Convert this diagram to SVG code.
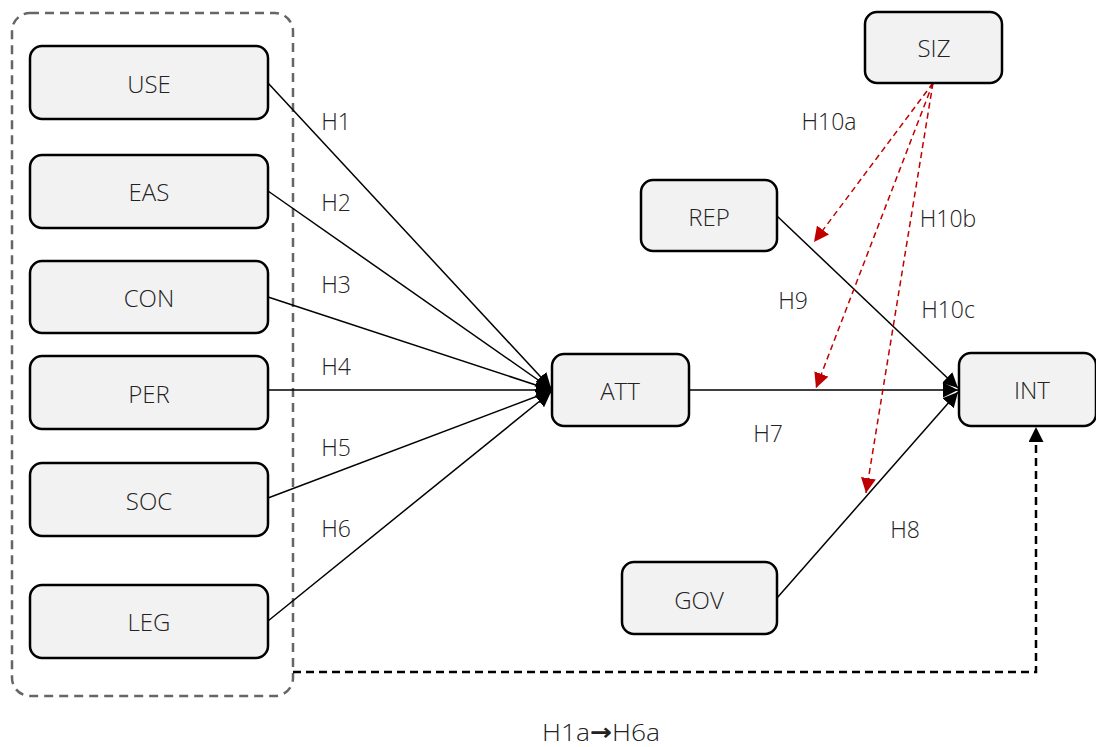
<svg xmlns="http://www.w3.org/2000/svg" width="1096" height="747" viewBox="0 0 1096 747">
<style>
.box{fill:#f2f2f2;stroke:#000;stroke-width:2.5}
.t{font-family:"Open Sans","Noto Sans",sans-serif;font-weight:300;font-size:24px;fill:#222;text-anchor:middle;dominant-baseline:central}
.l{font-family:"Open Sans","Noto Sans",sans-serif;font-weight:300;font-size:23px;fill:#222;text-anchor:middle;dominant-baseline:central}
.c{stroke:#000;stroke-width:1.5;fill:none;marker-end:url(#ab)}
.r{stroke:#c00000;stroke-width:1.5;fill:none;stroke-dasharray:6 4;marker-end:url(#ar)}
</style>
<defs>
<marker id="ab" viewBox="0 0 10 10" refX="10" refY="5" markerWidth="15" markerHeight="15" markerUnits="userSpaceOnUse" orient="auto"><path d="M0,0 L10,5 L0,10 z" fill="#000"/></marker>
<marker id="ar" viewBox="0 0 10 10" refX="10" refY="5" markerWidth="15" markerHeight="15" markerUnits="userSpaceOnUse" orient="auto"><path d="M0,0 L10,5 L0,10 z" fill="#c00000"/></marker>
</defs>
<rect x="12" y="13" width="281" height="683" rx="18" fill="none" stroke="#666" stroke-width="2.5" stroke-dasharray="9 6"/>
<g id="connectors">
<line class="c" x1="268" y1="83" x2="551" y2="388"/>
<line class="c" x1="268" y1="191" x2="551" y2="389"/>
<line class="c" x1="268" y1="297" x2="551" y2="390"/>
<line class="c" x1="268" y1="390" x2="551" y2="390"/>
<line class="c" x1="268" y1="498" x2="551" y2="391"/>
<line class="c" x1="268" y1="621" x2="551" y2="392"/>
<line class="c" x1="689" y1="390" x2="958" y2="390"/>
<line class="c" x1="777" y1="216" x2="958" y2="388"/>
<line class="c" x1="777" y1="598" x2="958" y2="392"/>
<path d="M293,672 H1036 V427" fill="none" stroke="#000" stroke-width="2.5" stroke-dasharray="8 5" marker-end="url(#ab)"/>
<line class="r" x1="933" y1="83" x2="814" y2="242"/>
<line class="r" x1="933" y1="83" x2="816" y2="388"/>
<line class="r" x1="933" y1="83" x2="866" y2="493"/>
</g>
<g id="USE"><rect class="box" x="30" y="46" width="238" height="73" rx="12"/><text class="t" x="149" y="83">USE</text></g>
<g id="EAS"><rect class="box" x="30" y="155" width="238" height="73" rx="12"/><text class="t" x="149" y="191">EAS</text></g>
<g id="CON"><rect class="box" x="30" y="261" width="238" height="72" rx="12"/><text class="t" x="149" y="297">CON</text></g>
<g id="PER"><rect class="box" x="30" y="356" width="238" height="73" rx="12"/><text class="t" x="149" y="393">PER</text></g>
<g id="SOC"><rect class="box" x="30" y="463" width="238" height="73" rx="12"/><text class="t" x="149" y="500">SOC</text></g>
<g id="LEG"><rect class="box" x="30" y="585" width="238" height="73" rx="12"/><text class="t" x="149" y="621">LEG</text></g>
<g id="ATT"><rect class="box" x="552" y="354" width="137" height="72" rx="12"/><text class="t" x="620" y="390">ATT</text></g>
<g id="INT"><rect class="box" x="959" y="353" width="137" height="73" rx="12"/><text class="t" x="1032" y="389">INT</text></g>
<g id="SIZ"><rect class="box" x="865" y="12" width="137" height="71" rx="12"/><text class="t" x="934" y="47">SIZ</text></g>
<g id="REP"><rect class="box" x="641" y="180" width="136" height="71" rx="12"/><text class="t" x="709" y="216">REP</text></g>
<g id="GOV"><rect class="box" x="622" y="562" width="155" height="72" rx="12"/><text class="t" x="699" y="599">GOV</text></g>
<g id="labels">
<text class="l" x="336" y="121">H1</text>
<text class="l" x="336" y="202">H2</text>
<text class="l" x="336" y="284">H3</text>
<text class="l" x="336" y="366">H4</text>
<text class="l" x="336" y="447">H5</text>
<text class="l" x="336" y="528">H6</text>
<text class="l" x="768" y="433">H7</text>
<text class="l" x="905" y="529">H8</text>
<text class="l" x="793" y="300">H9</text>
<text class="l" x="829" y="121">H10a</text>
<text class="l" x="948" y="218">H10b</text>
<text class="l" x="948" y="309">H10c</text>
<text class="l" x="601" y="732" textLength="118" lengthAdjust="spacingAndGlyphs">H1a<tspan font-family="DejaVu Sans" font-weight="bold">→</tspan>H6a</text>
</g>
</svg>
